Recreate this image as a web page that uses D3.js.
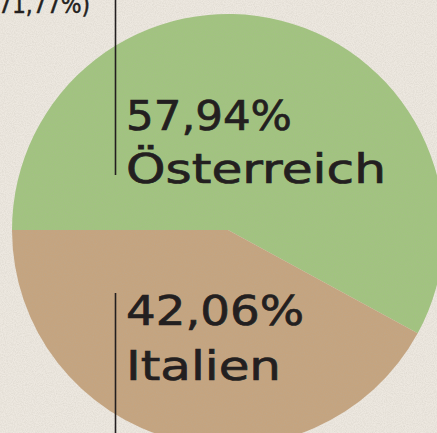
<!DOCTYPE html>
<html><head><meta charset="utf-8">
<script src="https://cdn.jsdelivr.net/npm/d3@7"></script>
<style>html,body{margin:0;padding:0;background:#ece7de;overflow:hidden}</style>
</head><body>
<svg id="c" width="437" height="433"></svg>
<script>
const categories = ["Österreich", "Italien"];
const values = [57.94, 42.06];
const valueLabels = ["57,94%", "42,06%"];
const noteLabel = "71,77%)";

const W = 437, H = 433;
const svg = d3.select("#c");
const colors = d3.scaleOrdinal().domain(categories).range(["#a1c47f", "#c5a47f"]);

const defs = svg.append("defs");
const f = defs.append("filter").attr("id","paper").attr("x",0).attr("y",0).attr("width","100%").attr("height","100%");
f.append("feTurbulence").attr("type","fractalNoise").attr("baseFrequency",0.9).attr("numOctaves",2).attr("seed",3).attr("result","n");
f.append("feColorMatrix").attr("in","n").attr("type","matrix")
 .attr("values","0 0 0 0 0.45  0 0 0 0 0.42  0 0 0 0 0.36  0 0 0 -1.1 0.75");

svg.append("rect").attr("width",W).attr("height",H).attr("fill","#ede8e0");

const cx = 228, cy = 230, R = 216;
const pie = d3.pie().sort(null).value(d => d.v).startAngle(-Math.PI/2).endAngle(1.5*Math.PI);
const arc = d3.arc().innerRadius(0).outerRadius(R);
const data = categories.map((c,i) => ({c, v: values[i]}));
const g = svg.append("g").attr("transform",`translate(${cx},${cy})`);
g.selectAll("path").data(pie(data)).join("path")
  .attr("d", arc).attr("fill", d => colors(d.data.c));

svg.append("rect").attr("width",W).attr("height",H).attr("filter","url(#paper)").attr("opacity",0.35);

const font = "'DejaVu Sans', sans-serif";
const ink = "#231f20";

svg.append("line").attr("x1",115.5).attr("x2",115.5).attr("y1",0).attr("y2",175).attr("stroke",ink).attr("stroke-width",1.6);
svg.append("line").attr("x1",115.5).attr("x2",115.5).attr("y1",293).attr("y2",H).attr("stroke",ink).attr("stroke-width",1.6);

const labelPos = [{y1:130, y2:183, w1:166, w2:260}, {y1:325, y2:380, w1:178, w2:155}];
categories.forEach((c,i) => {
  svg.append("text").attr("x",126).attr("y",labelPos[i].y1).attr("font-family",font).attr("font-size",41)
    .attr("textLength",labelPos[i].w1).attr("lengthAdjust","spacingAndGlyphs")
    .attr("fill",ink).attr("stroke",ink).attr("stroke-width",0.7).text(valueLabels[i]);
  svg.append("text").attr("x",126).attr("y",labelPos[i].y2).attr("font-family",font).attr("font-size",41)
    .attr("textLength",labelPos[i].w2).attr("lengthAdjust","spacingAndGlyphs")
    .attr("fill",ink).attr("stroke",ink).attr("stroke-width",0.7).text(c);
});
svg.append("text").attr("x",90).attr("y",13).attr("text-anchor","end").attr("font-family",font).attr("font-size",24)
  .attr("textLength",92).attr("lengthAdjust","spacingAndGlyphs")
  .attr("fill",ink).attr("stroke",ink).attr("stroke-width",0.5).text(noteLabel);
</script>
</body></html>
